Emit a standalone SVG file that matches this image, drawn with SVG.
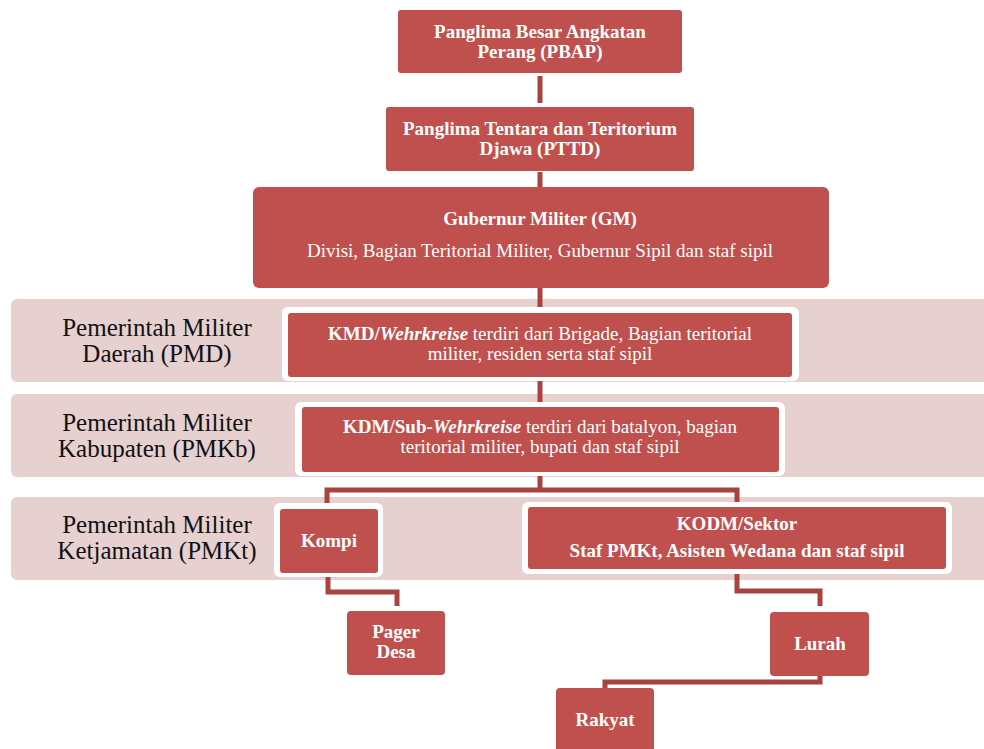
<svg xmlns="http://www.w3.org/2000/svg" width="984" height="749" viewBox="0 0 984 749">
<style>
.band{fill:#E7D0D0}
.box{fill:#C0504D}
.frame{fill:#FFFFFF}
.con{fill:none;stroke:#A8433F;stroke-width:5;stroke-linejoin:miter}
.t{font-family:"Liberation Serif",serif;fill:#FFFFFF;font-size:19px;text-anchor:middle}
.b{font-weight:bold}
.bl{font-family:"Liberation Serif",serif;fill:#111111;font-size:25px;text-anchor:middle}
</style>
<rect width="984" height="749" fill="#FFFFFF"/>
<g id="bands">
<rect class="band" x="11" y="299" width="990" height="83" rx="6"/>
<rect class="band" x="11" y="394" width="990" height="83" rx="6"/>
<rect class="band" x="11" y="497" width="990" height="83" rx="6"/>
</g>
<g id="band-labels">
<text class="bl" x="157" y="336">Pemerintah Militer</text>
<text class="bl" x="157" y="362">Daerah (PMD)</text>
<text class="bl" x="157" y="431">Pemerintah Militer</text>
<text class="bl" x="157" y="457">Kabupaten (PMKb)</text>
<text class="bl" x="157" y="533">Pemerintah Militer</text>
<text class="bl" x="157" y="559">Ketjamatan (PMKt)</text>
</g>
<g id="connectors">
<path class="con" d="M540 76 V103"/>
<path class="con" d="M540 172 V188"/>
<path class="con" d="M540 288 V313"/>
<path class="con" d="M540 377 V407"/>
<path class="con" d="M540 471 V490 M327 509 V490 H737 V507"/>
<path class="con" d="M328 573 V592 H397 V606"/>
<path class="con" d="M737 569 V591 H820 V606"/>
<path class="con" d="M820 676 V682 H605 V688"/>
</g>
<g id="pbap">
<rect class="box" x="398" y="10" width="284" height="63" rx="3"/>
<text class="t b" x="540" y="38">Panglima Besar Angkatan</text>
<text class="t b" x="540" y="58">Perang (PBAP)</text>
</g>
<g id="pttd">
<rect class="box" x="386" y="107" width="308" height="64" rx="3"/>
<text class="t b" x="540" y="135">Panglima Tentara dan Teritorium</text>
<text class="t b" x="540" y="155">Djawa (PTTD)</text>
</g>
<g id="gm">
<rect class="box" x="253" y="187" width="576" height="101" rx="6"/>
<text class="t b" x="540" y="225">Gubernur Militer (GM)</text>
<text class="t" x="540" y="257">Divisi, Bagian Teritorial Militer, Gubernur Sipil dan staf sipil</text>
</g>
<g id="kmd">
<rect class="frame" x="282" y="307" width="517" height="74" rx="6"/>
<rect class="box" x="288" y="313" width="504" height="64" rx="3"/>
<text class="t" x="540" y="340"><tspan class="b">KMD/</tspan><tspan class="b" font-style="italic">Wehrkreise</tspan> terdiri dari Brigade, Bagian teritorial</text>
<text class="t" x="540" y="360">militer, residen serta staf sipil</text>
</g>
<g id="kdm">
<rect class="frame" x="295" y="402" width="490" height="74" rx="6"/>
<rect class="box" x="302" y="407" width="477" height="65" rx="3"/>
<text class="t" x="540" y="433"><tspan class="b">KDM/Sub-</tspan><tspan class="b" font-style="italic">Wehrkreise</tspan> terdiri dari batalyon, bagian</text>
<text class="t" x="540" y="453">teritorial militer, bupati dan staf sipil</text>
</g>
<g id="kompi">
<rect class="frame" x="274" y="503" width="109" height="74" rx="6"/>
<rect class="box" x="280" y="509" width="98" height="64" rx="3"/>
<text class="t b" x="329" y="547">Kompi</text>
</g>
<g id="kodm">
<rect class="frame" x="522" y="502" width="430" height="72" rx="6"/>
<rect class="box" x="528" y="507" width="418" height="62" rx="3"/>
<text class="t b" x="737" y="530">KODM/Sektor</text>
<text class="t b" x="737" y="557">Staf PMKt, Asisten Wedana dan staf sipil</text>
</g>
<g id="pager-desa">
<rect class="box" x="347" y="611" width="98" height="64" rx="4"/>
<text class="t b" x="396" y="638">Pager</text>
<text class="t b" x="396" y="658">Desa</text>
</g>
<g id="lurah">
<rect class="box" x="770" y="612" width="99" height="64" rx="4"/>
<text class="t b" x="820" y="650">Lurah</text>
</g>
<g id="rakyat">
<rect class="box" x="556" y="688" width="98" height="70" rx="4"/>
<text class="t b" x="605" y="726">Rakyat</text>
</g>
</svg>
